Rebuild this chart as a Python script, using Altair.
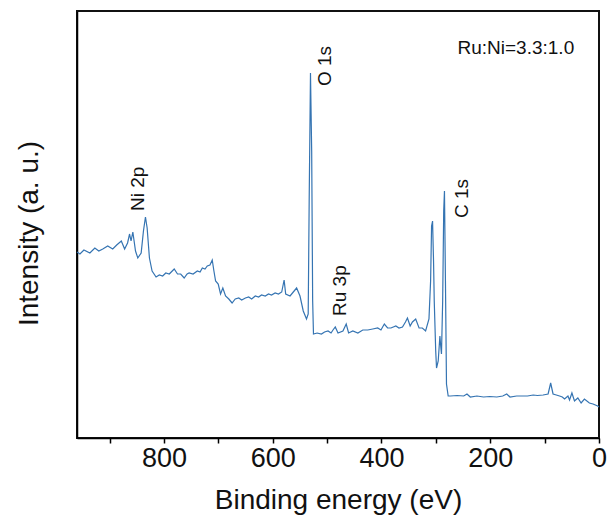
import altair as alt
import pandas as pd

# Binding energy (eV) and intensity (a.u.)
energy = [960.0, 954.6, 947.3, 936.3, 927.2, 919.9, 912.6, 903.5, 894.3, 887.0,
          878.5, 872.4, 867.0, 863.3, 860.6, 857.3, 852.4, 848.2, 842.0, 837.8,
          834.1, 831.0, 826.8, 821.9, 814.6, 808.6, 802.5, 796.7, 790.3, 784.8,
          781.2, 775.2, 769.3, 762.9, 757.5, 753.8, 746.5, 738.7, 733.7, 729.5,
          724.6, 720.4, 715.5, 711.3, 708.2, 705.1, 700.3, 696.0, 691.8, 686.8,
          680.8, 674.8, 669.0, 662.5, 657.1, 650.3, 644.3, 638.8, 632.1, 626.0,
          620.6, 613.8, 607.8, 602.3, 595.6, 589.5, 583.5, 579.1, 576.2, 568.2,
          562.2, 556.1, 549.9, 543.9, 537.9, 534.8, 533.0, 530.6, 528.4, 526.6,
          525.1, 518.4, 510.5, 504.7, 498.3, 492.8, 489.2, 485.0, 480.0, 470.9,
          464.9, 460.5, 452.7, 443.5, 434.4, 425.3, 416.1, 407.0, 401.0, 394.8,
          388.8, 382.7, 373.6, 367.8, 361.4, 355.9, 352.3, 347.3, 343.1, 337.1,
          330.9, 324.9, 318.9, 312.7, 309.7, 307.9, 306.1, 304.3, 303.0, 300.3,
          298.8, 295.7, 292.6, 291.1, 289.7, 287.5, 285.6, 284.2, 282.4, 280.5,
          277.4, 273.2, 261.0, 248.8, 242.8, 236.7, 224.5, 212.3, 200.8, 188.0,
          177.0, 169.7, 163.7, 151.5, 139.3, 131.4, 121.0, 113.2, 102.8, 93.6,
          88.9, 84.5, 78.5, 72.5, 67.5, 63.3, 57.1, 54.2, 49.8, 45.1,
          38.9, 32.9, 26.8, 17.7, 11.0, 2.4, 0.0]
intensity = [186, 184, 188, 185, 190, 187, 189, 192, 189, 193,
             197, 189, 195, 204, 197, 206, 187, 180, 185, 207,
             221, 210, 180, 167, 161, 163, 162, 165, 164, 167,
             169, 164, 164, 160, 164, 165, 164, 167, 166, 170,
             169, 172, 173, 178, 167, 157, 154, 144, 150, 142,
             139, 135, 139, 140, 138, 140, 141, 139, 142, 141,
             143, 142, 144, 143, 145, 144, 146, 158, 144, 142,
             146, 150, 142, 127, 119, 124, 237, 365, 287, 137,
             104, 105, 104, 106, 107, 105, 108, 111, 105, 107,
             114, 105, 107, 105, 108, 108, 109, 110, 108, 114,
             110, 110, 112, 110, 111, 116, 120, 112, 116, 119,
             110, 110, 107, 119, 157, 212, 217, 177, 137, 87,
             70, 77, 102, 92, 84, 137, 227, 247, 157, 54,
             42, 42, 42.5, 42, 44, 41, 42, 41, 41.5, 41,
             42, 44, 41, 42, 42, 42, 43, 42.5, 43, 44,
             55, 44, 43, 42, 41, 39, 42, 38, 45, 37,
             40, 35, 39, 35, 34, 32, 31]

peak_labels = ["Ni 2p", "O 1s", "Ru 3p", "C 1s"]
peak_label_x = [846.9, 504.3, 477.0, 251.9]
peak_label_y = [227, 352, 122, 220]

ratio_text = ["Ru:Ni=3.3:1.0"]
ratio_x = [45.6]
ratio_y = [384]

x_domain = [960, 0]
y_domain = [0, 427]
x_ticks = [900, 800, 700, 600, 500, 400, 300, 200, 100, 0]

FONT = "Liberation Sans"
LINE_COLOR = "#3574b2"

spec = pd.DataFrame({"energy": energy, "intensity": intensity})
lab = pd.DataFrame({"label": peak_labels, "energy": peak_label_x, "intensity": peak_label_y})
rat = pd.DataFrame({"label": ratio_text, "energy": ratio_x, "intensity": ratio_y})
top_edge = pd.DataFrame({"x1": [x_domain[0]], "x2": [x_domain[1]], "y": [y_domain[1]]})
right_edge = pd.DataFrame({"x": [x_domain[1]], "y1": [y_domain[0]], "y2": [y_domain[1]]})

xscale = alt.Scale(domain=x_domain, nice=False, zero=False)
yscale = alt.Scale(domain=y_domain, nice=False, zero=False)

xaxis = alt.Axis(
    title="Binding energy (eV)", values=x_ticks,
    labelExpr="datum.value % 200 == 0 ? datum.label : ''",
    grid=False, tickSize=5, tickWidth=1.5, tickColor="black",
    domainColor="black", domainWidth=1.5,
    labelFont=FONT, labelFontSize=27, labelColor="#111111", labelPadding=2,
    labelFlush=False,
    titleFont=FONT, titleFontSize=28, titleFontWeight="normal", titleColor="#111111",
    titleY=70, titleBaseline="alphabetic",
)
yaxis = alt.Axis(
    title="Intensity (a. u.)", labels=False, ticks=False, grid=False,
    domainColor="black", domainWidth=1.5,
    titleFont=FONT, titleFontSize=28, titleFontWeight="normal", titleColor="#111111",
    titleAngle=270, titleX=-40, titleY=222, titleBaseline="alphabetic", titleAlign="center",
)

top_rule = alt.Chart(top_edge).mark_rule(color="#111111", strokeWidth=2).encode(
    x=alt.X("x1:Q", scale=xscale), x2="x2:Q", y=alt.Y("y:Q", scale=yscale))
right_rule = alt.Chart(right_edge).mark_rule(color="#111111", strokeWidth=2).encode(
    x=alt.X("x:Q", scale=xscale), y=alt.Y("y1:Q", scale=yscale), y2="y2:Q")

line = alt.Chart(spec).mark_line(color=LINE_COLOR, strokeWidth=1.2).encode(
    x=alt.X("energy:Q", scale=xscale, axis=xaxis),
    y=alt.Y("intensity:Q", scale=yscale, axis=yaxis),
)

labels = alt.Chart(lab).mark_text(
    angle=270, align="left", baseline="middle", font=FONT, fontSize=19, color="#111111"
).encode(
    x=alt.X("energy:Q", scale=xscale),
    y=alt.Y("intensity:Q", scale=yscale),
    text="label:N",
)

ratio = alt.Chart(rat).mark_text(
    align="right", baseline="alphabetic", font=FONT, fontSize=19, color="#111111"
).encode(
    x=alt.X("energy:Q", scale=xscale),
    y=alt.Y("intensity:Q", scale=yscale),
    text="label:N",
)

chart = alt.layer(top_rule, right_rule, line, labels, ratio).properties(
    width=522, height=427,
    autosize=alt.AutoSizeParams(type="none"),
    padding={"left": 69, "top": 3, "right": 8, "bottom": 81},
).configure_view(stroke="#111111", strokeWidth=2)

chart.save("out.html", embed_options={"renderer": "svg", "actions": False})
